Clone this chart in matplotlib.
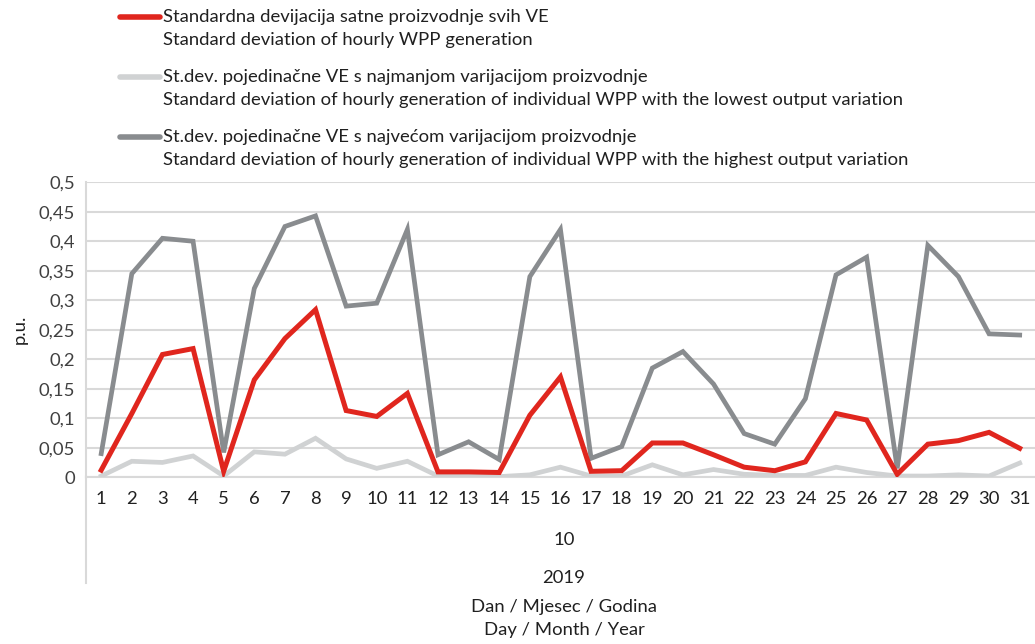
import numpy as np
import matplotlib
matplotlib.use("Agg")
import matplotlib.pyplot as plt
from matplotlib.lines import Line2D

plt.rcParams['font.family'] = ['Lato', 'DejaVu Sans']

days = list(range(1, 32))
month_label = "10"
year_label = "2019"

# standard deviation of all WPP together
std_all = [0.012, 0.108, 0.208, 0.218, 0.010, 0.165, 0.235, 0.284, 0.113, 0.103,
           0.142, 0.009, 0.009, 0.008, 0.105, 0.170, 0.010, 0.011, 0.058, 0.058,
           0.038, 0.017, 0.011, 0.026, 0.108, 0.097, 0.005, 0.056, 0.062, 0.076,
           0.049]
# individual WPP with lowest variation
std_low = [0.002, 0.027, 0.025, 0.036, 0.002, 0.043, 0.039, 0.066, 0.031, 0.015,
           0.027, 0.002, 0.002, 0.001, 0.004, 0.017, 0.002, 0.002, 0.021, 0.004,
           0.013, 0.005, 0.003, 0.003, 0.017, 0.008, 0.002, 0.002, 0.004, 0.002,
           0.024]
# individual WPP with highest variation
std_high = [0.040, 0.345, 0.405, 0.400, 0.042, 0.320, 0.425, 0.443, 0.290, 0.295,
            0.420, 0.038, 0.060, 0.030, 0.340, 0.420, 0.032, 0.052, 0.185, 0.213,
            0.158, 0.074, 0.056, 0.133, 0.343, 0.373, 0.015, 0.393, 0.340, 0.243,
            0.241]

labels = [
    ("Standardna devijacija satne proizvodnje svih VE",
     "Standard deviation of hourly WPP generation"),
    ("St.dev. pojedinačne VE s najmanjom varijacijom proizvodnje",
     "Standard deviation of hourly generation of individual WPP with the lowest output variation"),
    ("St.dev. pojedinačne VE s najvećom varijacijom proizvodnje",
     "Standard deviation of hourly generation of individual WPP with the highest output variation"),
]
colors = ["#E0261E", "#D0D2D3", "#898C8F"]
fs = 13.3

fig = plt.figure(figsize=(10.35, 6.44), dpi=100)
ax = fig.add_axes([0.083, 0.259, 0.917, 0.458])

ax.plot(days, std_low, color=colors[1], lw=3.4, solid_joinstyle='miter', zorder=3)
ax.plot(days, std_high, color=colors[2], lw=3.4, solid_joinstyle='miter', zorder=4)
ax.plot(days, std_all, color=colors[0], lw=3.6, solid_joinstyle='miter', zorder=5)

ax.set_xlim(0.5, 31.5)
ax.set_ylim(0, 0.5)
ax.set_yticks(np.arange(0, 0.51, 0.05))
ax.set_yticklabels(["0"] + [("%g" % v).replace(".", ",") for v in np.arange(0.05, 0.51, 0.05)],
                   fontsize=fs, color="#404040")
ax.set_xticks(days)
ax.set_xticklabels([str(d) for d in days], fontsize=fs, color="#202020")
ax.tick_params(length=0, pad=10)
ax.tick_params(axis='y', pad=8)
ax.grid(axis='y', color="#D9D9D9", lw=1.5)
ax.set_axisbelow(True)
for s in ["top", "right"]:
    ax.spines[s].set_visible(False)
ax.spines["left"].set_color("#D9D9D9")
ax.spines["bottom"].set_color("#D9D9D9")
ax.spines["left"].set_linewidth(1.5)
ax.spines["bottom"].set_linewidth(1.5)
# category axis line extends down past the multi-level labels
ax.plot([0, 0], [0, -0.36], transform=ax.transAxes, color="#D9D9D9", lw=1.5, clip_on=False)

ax.set_ylabel("p.u.", fontsize=fs, color="#202020", labelpad=8)

fig.text(0.545, 1 - 540 / 644, month_label, ha='center', va='center', fontsize=fs, color="#202020")
fig.text(0.545, 1 - 578 / 644, year_label, ha='center', va='center', fontsize=fs, color="#202020")
fig.text(0.545, 1 - 607 / 644, "Dan / Mjesec / Godina", ha='center', va='center', fontsize=fs, color="#202020")
fig.text(0.545, 1 - 630 / 644, "Day / Month / Year", ha='center', va='center', fontsize=fs, color="#202020")

# legend drawn by hand so the line sits on the first text line
leg_y = [17, 77, 137]
for (l1, l2), c, y in zip(labels, colors, leg_y):
    fy = 1 - y / 644
    fig.add_artist(Line2D([120 / 1035, 160 / 1035], [fy, fy], color=c, lw=4,
                          solid_capstyle='round'))
    fig.text(163 / 1035, fy, l1, ha='left', va='center', fontsize=fs, color="#202020")
    fig.text(163 / 1035, fy - 23 / 644, l2, ha='left', va='center', fontsize=fs, color="#202020")

plt.savefig("out.png", dpi=100)
